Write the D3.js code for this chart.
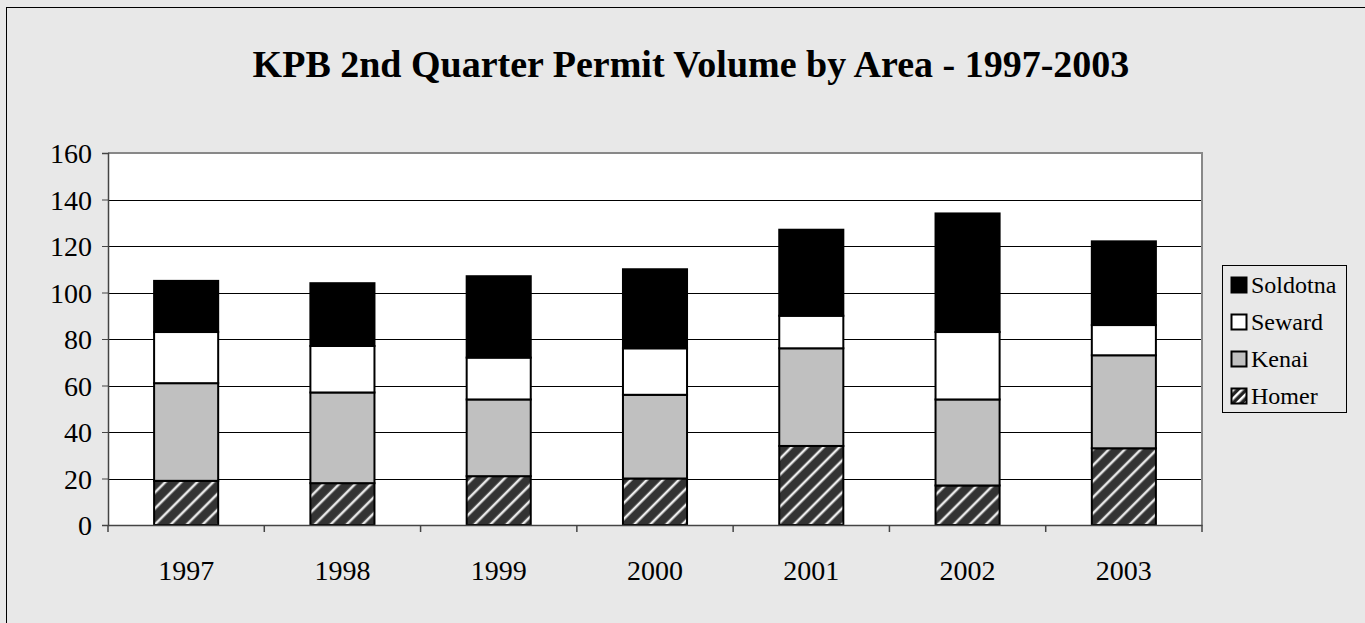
<!DOCTYPE html>
<html>
<head>
<meta charset="utf-8">
<script src="https://cdn.jsdelivr.net/npm/d3@7"></script>
<style>
  html, body { margin: 0; padding: 0; background: #e8e8e8; }
  svg { display: block; }
</style>
</head>
<body>
<svg id="chart" width="1365" height="623"></svg>
<script>
const years = ["1997", "1998", "1999", "2000", "2001", "2002", "2003"];
const homer = [19, 18, 21, 20, 34, 17, 33];
const kenai = [42, 39, 33, 36, 42, 37, 40];
const seward = [22, 20, 18, 20, 14, 29, 13];
const soldotna = [22, 27, 35, 34, 37, 51, 36];
const seriesNames = ["Homer", "Kenai", "Seward", "Soldotna"];
const yTicks = [0, 20, 40, 60, 80, 100, 120, 140, 160];
const titleText = "KPB 2nd Quarter Permit Volume by Area - 1997-2003";

const FONT = "'Liberation Serif', 'Times New Roman', serif";
const svg = d3.select("#chart");
const W = 1365, H = 623;
const plot = { left: 108, right: 1202, top: 153, bottom: 525 };

// outer frame
svg.append("rect").attr("x", 0).attr("y", 0).attr("width", W).attr("height", H).attr("fill", "#e8e8e8");
svg.append("rect").attr("x", 6.5).attr("y", 7.5).attr("width", W + 20).attr("height", H + 20)
  .attr("fill", "#e8e8e8").attr("stroke", "#000").attr("stroke-width", 1);

// pattern for Homer
const defs = svg.append("defs");
const pat = defs.append("pattern").attr("id", "hatch").attr("patternUnits", "userSpaceOnUse")
  .attr("width", 11.3).attr("height", 11.3).attr("patternTransform", "rotate(45)");
pat.append("rect").attr("width", 11.3).attr("height", 11.3).attr("fill", "#333");
pat.append("rect").attr("x", 4.5).attr("width", 2.5).attr("height", 11.3).attr("fill", "#fff").attr("opacity", 0.9);

const patL = defs.append("pattern").attr("id", "hatchL").attr("patternUnits", "userSpaceOnUse")
  .attr("width", 6).attr("height", 6).attr("patternTransform", "rotate(45)");
patL.append("rect").attr("width", 6).attr("height", 6).attr("fill", "#222");
patL.append("rect").attr("x", 2).attr("width", 2.5).attr("height", 6).attr("fill", "#fff");

// title
svg.append("text").attr("x", 691).attr("y", 77).attr("text-anchor", "middle")
  .attr("font-family", FONT).attr("font-size", 38).attr("font-weight", "bold").attr("fill", "#000").text(titleText);

// scales
const x = d3.scaleBand().domain(years).range([plot.left, plot.right]).paddingInner(0.59).paddingOuter(0.295);
const y = d3.scaleLinear().domain([0, 160]).range([plot.bottom, plot.top]);

// plot background
svg.append("rect").attr("x", plot.left).attr("y", plot.top).attr("width", plot.right - plot.left)
  .attr("height", plot.bottom - plot.top).attr("fill", "#fff");

// gridlines
svg.append("g").selectAll("line").data(yTicks.filter(d => d > 0 && d < 160)).join("line")
  .attr("x1", plot.left).attr("x2", plot.right)
  .attr("y1", d => Math.round(y(d)) + 0.5).attr("y2", d => Math.round(y(d)) + 0.5)
  .attr("stroke", "#000").attr("stroke-width", 1);

// top and right plot border
svg.append("path").attr("d", `M${plot.left},${plot.top} H${plot.right} V${plot.bottom}`)
  .attr("fill", "none").attr("stroke", "#888").attr("stroke-width", 2);

// stacked data
const table = years.map((yr, i) => ({ year: yr, Homer: homer[i], Kenai: kenai[i], Seward: seward[i], Soldotna: soldotna[i] }));
const stack = d3.stack().keys(seriesNames)(table);
const fills = { Homer: "url(#hatch)", Kenai: "#c0c0c0", Seward: "#fff", Soldotna: "#000" };

svg.append("g").selectAll("g").data(stack).join("g")
  .attr("fill", d => fills[d.key])
  .selectAll("rect").data(d => d).join("rect")
  .attr("x", d => x(d.data.year))
  .attr("width", x.bandwidth())
  .attr("y", d => y(d[1]))
  .attr("height", d => y(d[0]) - y(d[1]))
  .attr("stroke", "#000").attr("stroke-width", 2);

// y axis
const yAxis = d3.axisLeft(y).tickValues(yTicks).tickSize(6).tickPadding(10);
const gy = svg.append("g").attr("transform", `translate(${plot.left},0)`).call(yAxis)
  .attr("font-family", FONT).attr("font-size", 28);
gy.select(".domain").attr("stroke", "#444").attr("stroke-width", 1.5);
gy.selectAll(".tick line").attr("stroke", "#444");
gy.selectAll(".tick text").attr("fill", "#000").attr("dy", "0.34em");

// x axis
const xAxis = d3.axisBottom(x).tickSize(0).tickPadding(35);
const gx = svg.append("g").attr("transform", `translate(0,${plot.bottom})`).call(xAxis)
  .attr("font-family", FONT).attr("font-size", 28);
gx.select(".domain").attr("stroke", "#444").attr("stroke-width", 1.5);
gx.selectAll(".tick text").attr("fill", "#000");
// category boundary ticks
const bounds = d3.range(years.length + 1).map(i => plot.left + i * x.step());
gx.append("g").selectAll("line").data(bounds).join("line")
  .attr("x1", d => d).attr("x2", d => d).attr("y1", 0).attr("y2", 7)
  .attr("stroke", "#444").attr("stroke-width", 1.5);

// legend
const legendItems = ["Soldotna", "Seward", "Kenai", "Homer"];
const legendFills = { Homer: "url(#hatchL)", Kenai: "#c0c0c0", Seward: "#fff", Soldotna: "#000" };
const lg = svg.append("g");
lg.append("rect").attr("x", 1222.5).attr("y", 265.5).attr("width", 124).attr("height", 147)
  .attr("fill", "#e8e8e8").attr("stroke", "#000").attr("stroke-width", 1);
const li = lg.selectAll("g.item").data(legendItems).join("g").attr("class", "item")
  .attr("transform", (d, i) => `translate(1231, ${285 + i * 37})`);
li.append("rect").attr("x", 0.5).attr("y", -7.5).attr("width", 15).attr("height", 15)
  .attr("fill", d => legendFills[d]).attr("stroke", "#000").attr("stroke-width", 2);
li.append("text").attr("x", 20).attr("y", 0).attr("dy", "0.35em")
  .attr("font-family", FONT).attr("font-size", 24).attr("fill", "#000").text(d => d);
</script>
</body>
</html>
